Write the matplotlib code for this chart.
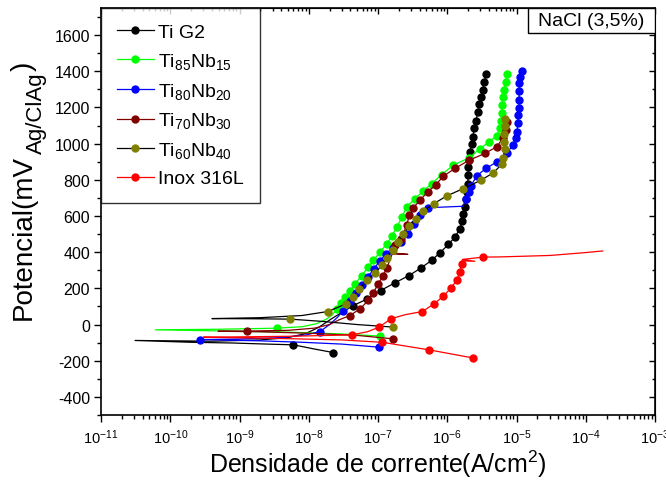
import matplotlib
matplotlib.use("Agg")
import matplotlib.pyplot as plt
from matplotlib.ticker import LogLocator, MultipleLocator, NullFormatter, FixedLocator
from matplotlib.patches import Rectangle

plt.rcParams['font.family'] = ['Liberation Sans', 'DejaVu Sans']
plt.rcParams['mathtext.fontset'] = 'custom'
plt.rcParams['mathtext.rm'] = 'Liberation Sans'
plt.rcParams['mathtext.it'] = 'Liberation Sans:italic'
plt.rcParams['mathtext.bf'] = 'Liberation Sans:bold'
plt.rcParams['axes.unicode_minus'] = False

# ---------------- data (current density A/cm2, potential mV, marker flag) ----------------
tig2_i = [2.27e-8, 1.2e-8, 6.0e-9, 2.5e-9, 8e-10, 2e-10, 3.1e-11,
          4e-10, 2e-9, 5e-9, 9e-9, 1.4e-8, 2.0e-8, 2.8e-8,
          4.4e-8, 7.0e-8, 1.09e-7, 1.76e-7, 2.81e-7, 4.14e-7, 5.96e-7, 7.85e-7,
          1.04e-6, 1.29e-6, 1.53e-6, 1.65e-6, 1.71e-6, 1.80e-6, 1.87e-6, 1.91e-6,
          1.97e-6, 2.01e-6, 2.01e-6, 2.06e-6, 2.13e-6, 2.25e-6, 2.33e-6, 2.46e-6,
          2.60e-6, 2.75e-6, 2.90e-6, 3.07e-6, 3.25e-6, 3.43e-6, 3.63e-6]
tig2_e = [-155, -135, -112, -108, -102, -98, -88,
          -92, -85, -72, -50, -15, 25, 60,
          105, 142, 188, 231, 271, 312, 355, 397,
          443, 484, 530, 572, 613, 650, 696, 733,
          779, 825, 872, 912, 955, 997, 1038, 1084,
          1127, 1173, 1217, 1260, 1296, 1343, 1383]
tig2_m = [1, 0, 1, 0, 0, 0, 0,
          0, 0, 0, 0, 0, 0, 0] + [1] * 31

ti85_i = [1.07e-7, 3e-8, 5e-9, 5e-10, 6.1e-11,
          5e-10, 3.44e-9, 8e-9, 1.3e-8, 1.8e-8, 2.2e-8,
          2.54e-8, 2.9e-8, 3.33e-8, 3.94e-8, 4.66e-8, 5.82e-8, 7.24e-8, 8.55e-8,
          1.07e-7, 1.34e-7, 1.59e-7, 1.88e-7, 2.22e-7, 2.59e-7, 3.42e-7, 4.51e-7,
          5.96e-7, 8.32e-7, 1.22e-6, 2.08e-6, 2.97e-6, 4.05e-6, 5.18e-6, 5.78e-6,
          5.97e-6, 6.11e-6, 6.18e-6, 6.32e-6, 6.60e-6, 6.98e-6, 7.21e-6]
ti85_e = [-64, -52, -42, -35, -29,
          -26, -20, -12, 5, 30, 55,
          87, 118, 152, 188, 225, 271, 318, 355,
          401, 447, 491, 540, 595, 650, 696, 739,
          779, 829, 881, 922, 973, 1010, 1044, 1084,
          1127, 1171, 1213, 1260, 1296, 1343, 1383]
ti85_m = [1, 0, 0, 0, 0,
          0, 1, 0, 0, 0, 0] + [1] * 31

ti80_i = [1.03e-7, 3e-8, 8e-9, 2e-9, 2.7e-10,
          1e-9, 4e-9, 9e-9, 1.45e-8, 2.0e-8, 2.6e-8,
          3.13e-8, 3.94e-8, 4.81e-8, 5.87e-8, 7.17e-8, 8.75e-8, 1.07e-7, 1.31e-7,
          1.65e-7, 2.15e-7, 2.71e-7, 3.31e-7, 4.04e-7, 5.27e-7, 1.69e-6,
          1.87e-6, 2.06e-6, 2.20e-6, 2.69e-6, 3.63e-6, 5.23e-6, 7.30e-6, 8.90e-6,
          9.83e-6, 1.02e-5, 1.04e-5, 1.06e-5, 1.09e-5, 1.09e-5, 1.10e-5, 1.10e-5,
          1.12e-5, 1.19e-5]
ti80_e = [-125, -108, -98, -90, -83,
          -80, -72, -58, -39, 0, 40,
          76, 131, 175, 220, 264, 309, 353, 392,
          425, 458, 502, 557, 607, 646, 654,
          696, 735, 768, 824, 863, 900, 951, 990,
          1029, 1067, 1112, 1157, 1195, 1241, 1289, 1333,
          1366, 1400]
ti80_m = [1, 0, 0, 0, 1,
          0, 0, 0, 1, 0, 0,
          1, 1, 1, 1, 1, 1, 1, 1,
          1, 1, 1, 1, 1, 1, 0,
          1, 1, 1, 1, 1, 1, 1, 1,
          1, 1, 1, 1, 1, 1, 1, 1,
          1, 1]

ti70_i = [1.66e-7, 5e-8, 1e-8, 2e-9, 4.9e-10,
          1.27e-9, 5e-9, 1.2e-8, 2e-8, 2.7e-8,
          3.94e-8, 5.5e-8, 7.24e-8, 8.5e-8, 1.0e-7, 1.18e-7, 1.35e-7,
          1.6e-7, 2.7e-7, 1.65e-7,
          1.76e-7, 2.15e-7, 2.59e-7, 2.83e-7, 3.23e-7, 4.04e-7, 5.22e-7, 6.89e-7,
          8.77e-7, 1.29e-6, 2.08e-6, 3.51e-6, 5.18e-6, 6.32e-6, 7.05e-6, 7.21e-6]
ti70_e = [-79, -60, -48, -40, -37,
          -36, -32, -20, 0, 25,
          50, 87, 133, 175, 222, 270, 315,
          390, 388, 395,
          438, 475, 548, 604, 645, 687, 733, 774,
          820, 863, 909, 946, 983, 1029, 1075, 1121]
ti70_m = [1, 0, 0, 0, 0,
          1, 0, 0, 0, 0,
          1, 1, 1, 1, 1, 1, 1,
          0, 0, 0] + [1] * 16

ti60_i = [1.66e-7, 5e-8, 1.5e-8, 5.4e-9, 1.5e-9, 4e-10,
          2e-9, 8e-9, 1.88e-8, 3.5e-8, 4.4e-8, 5.4e-8, 7.0e-8, 9.0e-8,
          1.15e-7, 1.34e-7, 1.63e-7, 1.92e-7, 2.32e-7, 2.83e-7, 3.54e-7, 4.51e-7,
          6.44e-7, 9.82e-7, 1.71e-6, 3.07e-6, 4.62e-6, 6.11e-6, 6.44e-6, 6.82e-6,
          6.67e-6, 6.67e-6, 6.82e-6, 6.82e-6]
ti60_e = [-14, 0, 18, 30, 32, 33,
          38, 50, 72, 115, 155, 198, 244, 286,
          327, 370, 410, 456, 499, 545, 586, 628,
          669, 711, 752, 798, 839, 885, 923, 968,
          1010, 1051, 1097, 1136]
ti60_m = [1, 0, 0, 1, 0, 0,
          0, 0] + [1] * 26

inox_i = [2.38e-6, 5.5e-7, 1.15e-7, 3e-8, 5e-9, 1e-9, 3.0e-10,
          1e-9, 5e-9, 2e-8, 4.17e-8, 7e-8, 1.03e-7, 1.54e-7, 2.5e-7, 4.37e-7,
          6.5e-7, 8.77e-7, 1.13e-6, 1.37e-6, 1.53e-6, 1.61e-6,
          1.62e-6, 2.5e-6, 1.65e-6, 3.32e-6, 5.8e-6, 3.05e-5, 1.0e-4, 1.76e-4]
inox_e = [-185, -140, -98, -85, -78, -73, -70,
          -68, -65, -60, -57, -40, -15, 32, 55, 72,
          115, 157, 202, 244, 290, 336,
          352, 350, 360, 373, 374, 382, 398, 407]
inox_m = [1, 1, 1, 0, 0, 0, 0,
          0, 0, 0, 1, 0, 1, 1, 0, 1,
          1, 1, 1, 1, 1, 1,
          0, 0, 0, 1, 0, 0, 0, 0]

labels = ['Ti G2', 'Ti$_{85}$Nb$_{15}$', 'Ti$_{80}$Nb$_{20}$',
          'Ti$_{70}$Nb$_{30}$', 'Ti$_{60}$Nb$_{40}$', 'Inox 316L']
line_colors = ['#000000', '#00FF00', '#0000FF', '#800000', '#000000', '#FF0000']
marker_colors = ['#000000', '#00FF00', '#0000FF', '#800000', '#808000', '#FF0000']

series = [(tig2_i, tig2_e, tig2_m), (ti85_i, ti85_e, ti85_m), (ti80_i, ti80_e, ti80_m),
          (ti70_i, ti70_e, ti70_m), (ti60_i, ti60_e, ti60_m), (inox_i, inox_e, inox_m)]

yticks = [-400, -200, 0, 200, 400, 600, 800, 1000, 1200, 1400, 1600]

# ---------------- figure ----------------
W, H = 666, 481
fig = plt.figure(figsize=(W / 100, H / 100), dpi=100)
ax = fig.add_axes([101 / W, 1 - 416 / H, 554 / W, 407 / H])

for (xs, ys, ms), lab, lc, mc in zip(series, labels, line_colors, marker_colors):
    idx = [k for k, f in enumerate(ms) if f]
    ax.plot(xs, ys, color=lc, lw=0.9, marker='o', ms=5, mfc=mc, mec=mc,
            markevery=idx, label=lab)

ax.set_xscale('log')
ax.set_xlim(1e-11, 1e-3)
ax.set_ylim(-500, 1750)
ax.yaxis.set_major_locator(FixedLocator(yticks))
ax.yaxis.set_minor_locator(MultipleLocator(100))
ax.xaxis.set_major_locator(LogLocator(base=10, numticks=20))
ax.xaxis.set_minor_locator(LogLocator(base=10, subs=range(2, 10), numticks=100))
ax.xaxis.set_minor_formatter(NullFormatter())

ax.tick_params(which='major', direction='out', length=5, width=1, pad=3)
ax.tick_params(which='minor', direction='out', length=3, width=1)
ax.tick_params(axis='y', labelsize=11.5)
ax.tick_params(axis='x', labelsize=10.5, pad=4)
for s in ax.spines.values():
    s.set_linewidth(1.2)

# inward ticks on top and right
sx = ax.secondary_xaxis('top')
sx.xaxis.set_major_locator(LogLocator(base=10, numticks=20))
sx.xaxis.set_minor_locator(LogLocator(base=10, subs=range(2, 10), numticks=100))
sx.tick_params(which='major', direction='in', length=4, width=1, labeltop=False)
sx.tick_params(which='minor', direction='in', length=2.5, width=1)
sx.xaxis.set_major_formatter(NullFormatter())
sx.xaxis.set_minor_formatter(NullFormatter())
sy = ax.secondary_yaxis('right')
sy.yaxis.set_major_locator(FixedLocator(yticks))
sy.yaxis.set_minor_locator(MultipleLocator(100))
sy.tick_params(which='major', direction='in', length=4, width=1, labelright=False)
sy.tick_params(which='minor', direction='in', length=2.5, width=1)
sy.yaxis.set_major_formatter(NullFormatter())

ax.set_xlabel('Densidade de corrente(A/cm$^2$)', fontsize=18, labelpad=1)

leg = ax.legend(loc='upper left', bbox_to_anchor=(0, 1), borderaxespad=0,
                fontsize=14, frameon=True, fancybox=False, shadow=False,
                numpoints=1, handlelength=1.9, handletextpad=0.25,
                labelspacing=0.5, borderpad=0.8)
leg.get_frame().set_edgecolor('black')
leg.get_frame().set_linewidth(1.0)

ax.add_patch(Rectangle((0.770, 0.9386), 0.230, 0.0614, transform=ax.transAxes,
                       fc='white', ec='black', lw=1.0, zorder=5))
ax.text(0.8845, 0.9693, 'NaCl (3,5%)', transform=ax.transAxes, ha='center', va='center',
        fontsize=14, zorder=6)

# y label built from pieces (main text, subscript, closing parenthesis)
fig.canvas.draw()
r = fig.canvas.get_renderer()
x_base = 31  # baseline x (px from left)
y_start = 320  # px from top
t1 = fig.text(x_base / W, 1 - y_start / H, 'Potencial(mV', fontsize=20, rotation=90,
              rotation_mode='anchor', ha='left', va='baseline')
e1 = t1.get_window_extent(r)
t2 = fig.text((x_base + 11) / W, (e1.y1 + 1) / H, 'Ag/ClAg', fontsize=16, rotation=90,
              rotation_mode='anchor', ha='left', va='baseline')
e2 = t2.get_window_extent(r)
t3 = fig.text(x_base / W, (e2.y1 + 1) / H, ')', fontsize=20, rotation=90,
              rotation_mode='anchor', ha='left', va='baseline')

fig.savefig('out.png', dpi=100)
